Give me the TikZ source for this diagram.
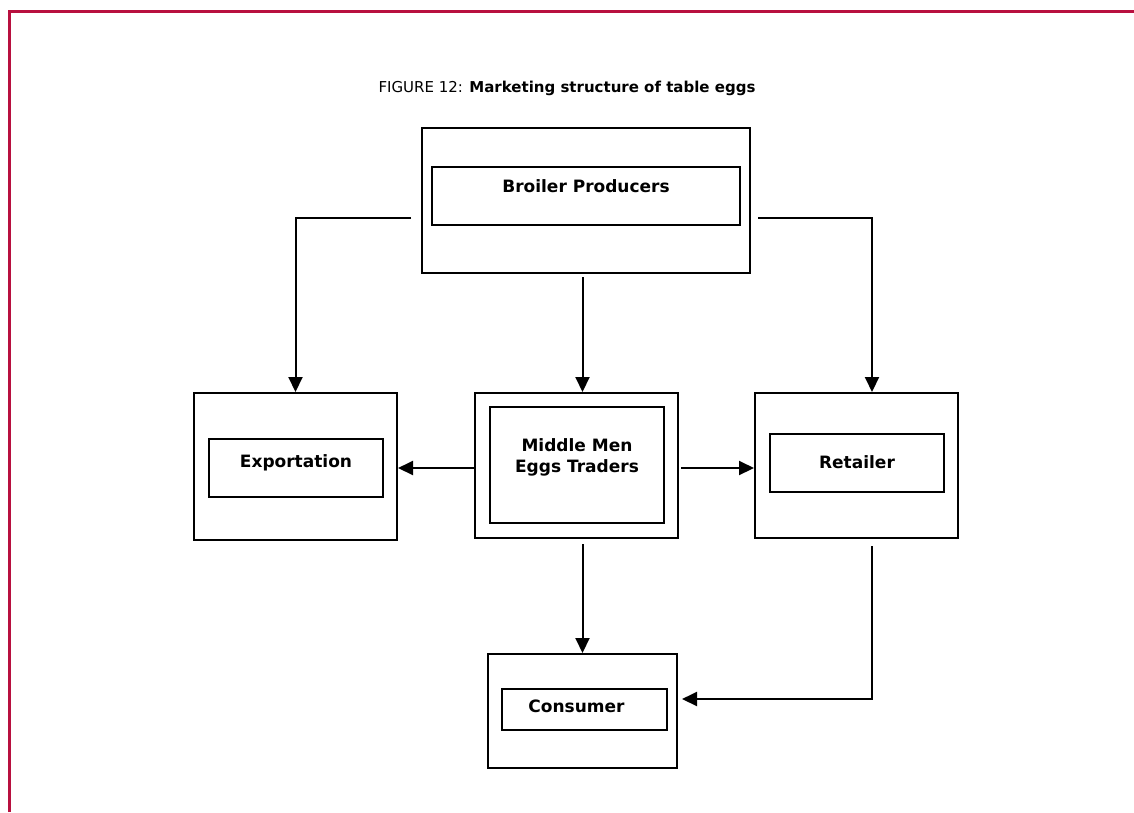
\documentclass[tikz,border=0pt]{standalone}
\usepackage{fontspec}
\setmainfont{DejaVu Sans}
\usepackage{xcolor}
\usepackage{tikz}
\usetikzlibrary{arrows.meta,positioning}
\definecolor{framered}{HTML}{B8103F}

\begin{document}
\begin{tikzpicture}[
  x=1pt, y=-1pt,
  >={Triangle[length=15pt,width=14pt]},
  every node/.style={font=\fontsize{17}{21}\selectfont\bfseries, inner sep=0pt},
  outerbox/.style={rectangle, draw, line width=2pt},
  innerbox/.style={rectangle, draw, line width=2pt, align=center, text height=11pt},
  arr/.style={->, line width=2pt},
]
\useasboundingbox (0,0) rectangle (1134,812);

% === Frame ===
\draw[framered, line width=3pt] (9.5,812) -- (9.5,11) -- (1134,11);

% === Title ===
\node[font=\fontsize{15}{18}\selectfont] (title) at (567,88) {FIGURE 12: \textbf{Marketing structure of table eggs}};

% === Outer boxes ===
\node[outerbox, minimum width=328pt, minimum height=145pt] (broiler) at (586,200.5) {};
\node[outerbox, minimum width=203pt, minimum height=145pt] (middle) at (576.5,465.5) {};
\node[outerbox, minimum width=203pt, minimum height=147pt] (export) at (295.5,466.5) {};
\node[outerbox, minimum width=203pt, minimum height=145pt] (retail) at (856.5,465.5) {};
\node[outerbox, minimum width=189pt, minimum height=114pt] (consumer) at (582.5,711) {};

% === Inner boxes ===
\node[innerbox, minimum width=308pt, minimum height=58pt, text depth=18.6pt] (broilerin) at (586,196) {Broiler Producers};
\node[innerbox, minimum width=174pt, minimum height=116pt, text height=14.4pt, text depth=0pt] (middlein) at (577,465) {Middle Men\\Eggs Traders};
\node[innerbox, minimum width=174pt, minimum height=58pt, text depth=12.6pt] (exportin) at (296,468) {Exportation};
\node[innerbox, minimum width=174pt, minimum height=58pt, text depth=0.6pt] (retailin) at (857,463) {Retailer};
\node[innerbox, minimum width=165pt, minimum height=41pt, text depth=5.6pt] (consumerin) at (584.5,709.5) {Consumer\kern16pt};

% === Arrows: from producers ===
\draw[arr] ([shift={(-10,17.5)}]broiler.west) -| (export.north);
\draw[arr] ([shift={(7,17.5)}]broiler.east) -| ([xshift=15.5pt]retail.north);
\draw[arr] ([yshift=-3pt]broiler.south -| consumer.north) -- (consumer.north |- middle.north);

% === Arrows: from traders ===
\draw[arr] ([yshift=-2.5pt]middle.west) -- ([yshift=-2.5pt]middle.west -| export.east);
\draw[arr] ([shift={(2,2.5)}]middle.east) -- ([yshift=-2.5pt]middle.east -| retail.west);
\draw[arr] ([yshift=-5pt]consumer.north |- middle.south) -- (consumer.north);

% === Arrow: retailer to consumer ===
\draw[arr] ([shift={(15.5,7)}]retail.south) |- ([shift={(4,-12)}]consumer.east);

\end{tikzpicture}
\end{document}
